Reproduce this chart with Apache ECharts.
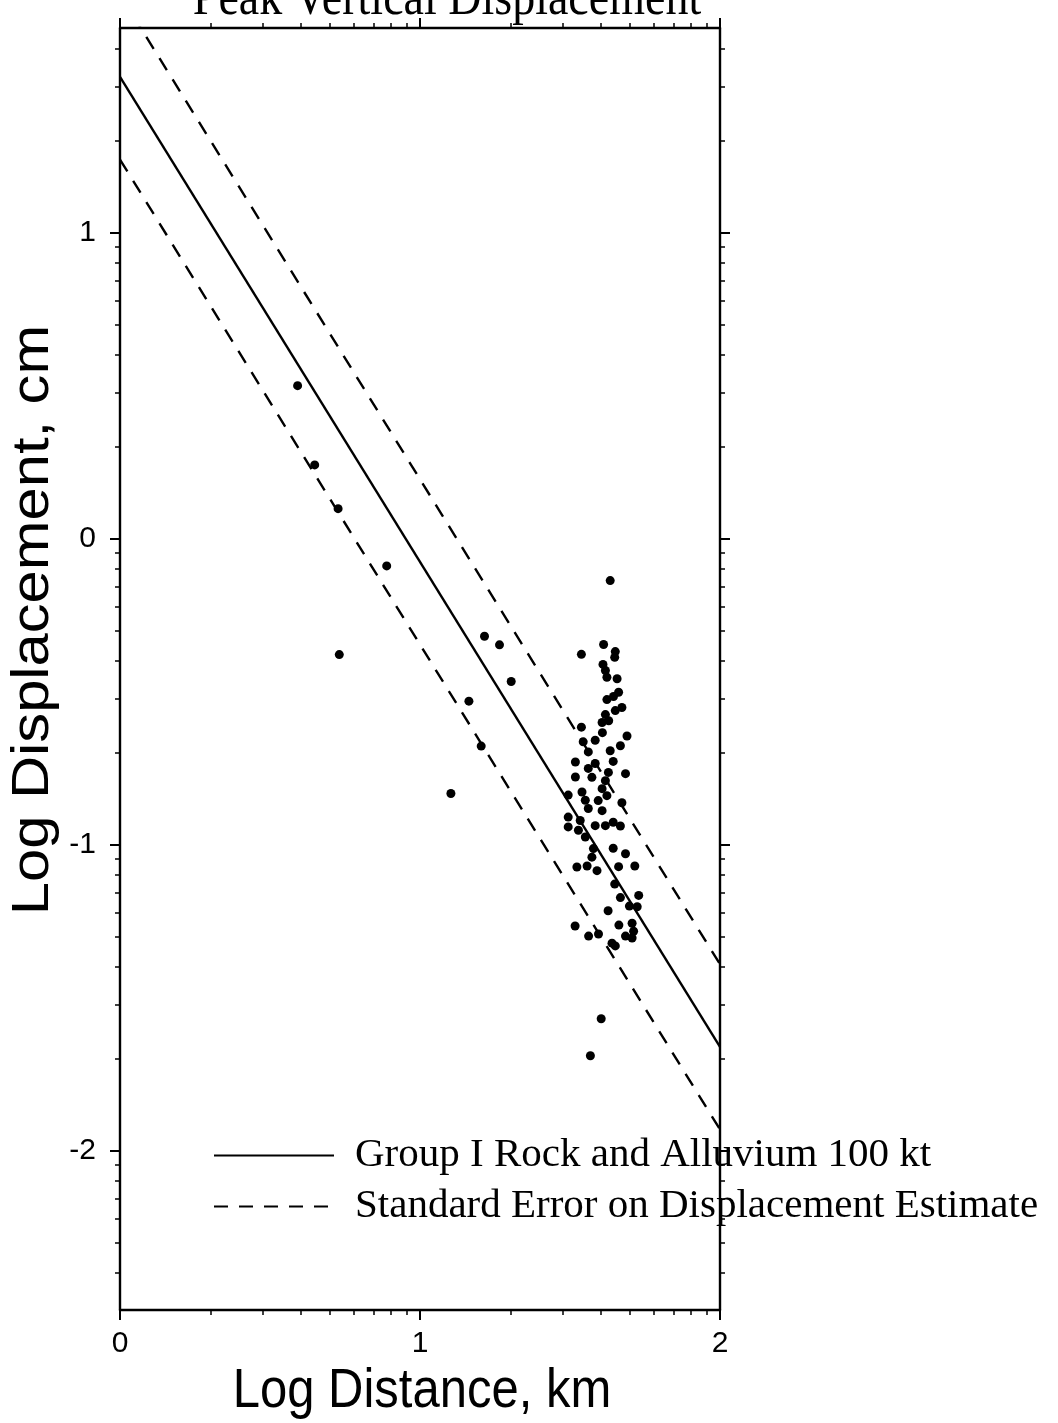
<!DOCTYPE html>
<html>
<head>
<meta charset="utf-8">
<script src="https://cdn.jsdelivr.net/npm/echarts@6/dist/echarts.min.js"></script>
<style>
  html, body { margin: 0; padding: 0; background: #fff; }
  #chart { width: 1058px; height: 1423px; }
</style>
</head>
<body>
<div id="chart"></div>
<script>
// Station observations: log10 distance (km) and log10 peak vertical displacement (cm)
const distX = [
  0.592, 0.649, 0.727, 0.731, 0.889, 1.103, 1.163, 1.204, 1.215, 1.265, 1.304,
  1.634, 1.538, 1.604, 1.568,
  1.612, 1.651, 1.649, 1.610, 1.618, 1.623, 1.657, 1.662, 1.645, 1.623,
  1.673, 1.651, 1.618, 1.629, 1.607, 1.538, 1.608, 1.690, 1.544, 1.584,
  1.668, 1.634, 1.561, 1.518, 1.584, 1.644, 1.561, 1.628, 1.685, 1.518,
  1.573, 1.618, 1.607, 1.540, 1.623, 1.494, 1.551, 1.594, 1.673, 1.561,
  1.607, 1.494, 1.534, 1.584, 1.618, 1.644, 1.668, 1.494, 1.528, 1.551,
  1.578, 1.573, 1.644, 1.685, 1.523, 1.557, 1.590, 1.662, 1.716, 1.649,
  1.668, 1.729, 1.698, 1.724, 1.627, 1.517, 1.663, 1.707, 1.712, 1.562,
  1.595, 1.685, 1.707, 1.640, 1.651
];
const dispY = [
  0.501, 0.242, 0.099, -0.378, -0.088, -0.832, -0.530, -0.677, -0.318, -0.346, -0.466,
  -0.136, -0.377, -1.568, -1.689,
  -0.345, -0.368, -0.387, -0.410, -0.430, -0.452, -0.457, -0.501, -0.515, -0.525,
  -0.551, -0.561, -0.574, -0.594, -0.600, -0.615, -0.633, -0.644, -0.663, -0.658,
  -0.676, -0.692, -0.696, -0.729, -0.734, -0.727, -0.750, -0.763, -0.767, -0.778,
  -0.779, -0.790, -0.816, -0.827, -0.839, -0.837, -0.854, -0.855, -0.862, -0.881,
  -0.888, -0.909, -0.920, -0.937, -0.937, -0.926, -0.938, -0.941, -0.952, -0.974,
  -1.012, -1.040, -1.011, -1.029, -1.072, -1.069, -1.084, -1.071, -1.069, -1.128,
  -1.172, -1.165, -1.200, -1.202, -1.215, -1.265, -1.262, -1.256, -1.282, -1.298,
  -1.291, -1.298, -1.304, -1.321, -1.330
];

// Attenuation fit and its standard-error band (endpoints at log distance 0 and 2)
const fitX = [0, 2];
const fitY = [1.51, -1.66];
const upperY = [1.78, -1.39];
const lowerY = [1.24, -1.93];

// Axis ranges and labelled ticks
const xRange = [0, 2];
const yRange = [-2.52, 1.67];
const xTickLabels = [0, 1, 2];
const yTickLabels = [-2, -1, 0, 1];

const titleText = 'Peak Vertical Displacement';
const xName = 'Log Distance, km';
const yName = 'Log Displacement, cm';
const fitName = 'Group I Rock and Alluvium 100 kt';
const errName = 'Standard Error on Displacement Estimate';

// Minor ticks at log10(2..9) inside every decade
function logMinor(lo, hi) {
  const out = [];
  for (let d = Math.floor(lo) - 1; d <= Math.ceil(hi); d++) {
    for (let k = 2; k <= 9; k++) {
      const t = d + Math.log10(k);
      if (t > lo && t < hi) out.push(+t.toFixed(4));
    }
  }
  return out;
}

const ink = '#000';
const sans = '"Liberation Sans", Arial, Helvetica, sans-serif';
const serif = '"Liberation Serif", "Times New Roman", serif';

// Each side of the frame gets a major axis (line, long ticks, labels) and a
// minor axis (short log-spaced ticks only) stacked on the same edge.
function axis(position, range, majors, minors, opts) {
  const base = {
    type: 'value', position, min: range[0], max: range[1],
    splitLine: { show: false }, axisPointer: { show: false }
  };
  const major = Object.assign({}, base, {
    axisLine: { show: true, onZero: false, lineStyle: { color: ink, width: 2.4 } },
    axisTick: { show: true, customValues: majors, length: 10, inside: false, lineStyle: { color: ink, width: 2 } },
    axisLabel: opts.labels
      ? { show: true, customValues: majors, margin: opts.margin, color: ink, fontFamily: sans, fontSize: 30 }
      : { show: false }
  });
  const minor = Object.assign({}, base, {
    axisLine: { show: false, onZero: false },
    axisTick: { show: true, customValues: minors, length: 5, inside: false, lineStyle: { color: ink, width: 1.5 } },
    axisLabel: { show: false }
  });
  return [major, minor];
}

const xMinor = logMinor(xRange[0], xRange[1]);
const yMinor = logMinor(yRange[0], yRange[1]);

const xAxes = [
  ...axis('bottom', xRange, xTickLabels, xMinor, { labels: true, margin: 19 }),
  ...axis('top', xRange, xTickLabels, xMinor, { labels: false })
];
const yAxes = [
  ...axis('left', yRange, yTickLabels, yMinor, { labels: true, margin: 24 }),
  ...axis('right', yRange, yTickLabels, yMinor, { labels: false })
];

const points = distX.map((x, i) => [x, dispY[i]]);
const pairs = (ys) => fitX.map((x, i) => [x, ys[i]]);
const noMarker = { color: 'rgba(0,0,0,0)', borderWidth: 0 };

const chart = echarts.init(document.getElementById('chart'), null, { renderer: 'canvas' });
chart.setOption({
  backgroundColor: '#fff',
  animation: false,
  grid: { left: 120, right: 338, top: 28, bottom: 113, containLabel: false },
  xAxis: xAxes,
  yAxis: yAxes,
  legend: {
    data: [fitName, errName],
    orient: 'vertical',
    left: 213,
    top: 1135,
    padding: 0,
    itemWidth: 120,
    itemHeight: 20,
    itemGap: 10,
    selectedMode: false,
    itemStyle: { opacity: 0, borderWidth: 0 },
    textStyle: { color: ink, fontFamily: serif, fontSize: 41, lineHeight: 40, padding: [0, 0, 0, 16] }
  },
  series: [
    {
      name: fitName, type: 'line', data: pairs(fitY), symbol: 'none', clip: true,
      itemStyle: noMarker, lineStyle: { color: ink, width: 2.4 }, z: 3
    },
    {
      name: errName, type: 'line', data: pairs(upperY), symbol: 'none', clip: true,
      itemStyle: noMarker, lineStyle: { color: ink, width: 2.4, type: [14, 11] }, z: 3
    },
    {
      name: errName, type: 'line', data: pairs(lowerY), symbol: 'none', clip: true,
      itemStyle: noMarker, lineStyle: { color: ink, width: 2.4, type: [14, 11] }, z: 3
    },
    {
      name: 'stations', type: 'scatter', data: points, symbol: 'circle', symbolSize: 9,
      itemStyle: { color: ink, opacity: 1 }, z: 4
    }
  ],
  graphic: [
    {
      type: 'text', x: 447, y: 0, scaleY: 1.15, silent: true,
      style: { text: titleText, fill: ink, fontFamily: serif, fontSize: 46, align: 'center', verticalAlign: 'middle' }
    },
    {
      type: 'text', x: 422, y: 1392, scaleY: 1.14, silent: true,
      style: { text: xName, fill: ink, fontFamily: sans, fontSize: 49, align: 'center', verticalAlign: 'middle' }
    },
    {
      type: 'text', x: 34, y: 620, rotation: Math.PI / 2, scaleX: 1.17, silent: true,
      style: { text: yName, fill: ink, fontFamily: sans, fontSize: 51, align: 'center', verticalAlign: 'middle' }
    }
  ]
});
</script>
</body>
</html>
